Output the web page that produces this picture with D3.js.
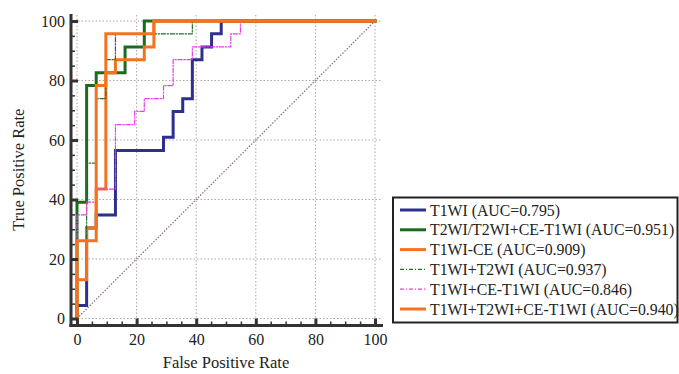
<!DOCTYPE html>
<html lang="en">
<head>
    <meta charset="UTF-8">
    <style>
        body { margin: 0; background: #fff; }
    </style>
</head>
<body>
    <script src="https://d3js.org/d3.v7.min.js"></script>
    <div id="here"></div>

    <script>
        // ROC vertices (false positive rate %, true positive rate %)
        const t1wiFpr = [0, 0, 3.23, 3.23, 6.45, 6.45, 12.9, 12.9, 29.03, 29.03, 32.26, 32.26, 35.48, 35.48, 38.71, 38.71, 41.94, 41.94, 45.16, 45.16, 48.39, 48.39, 100];
        const t1wiTpr = [0, 4.35, 4.35, 30.4, 30.4, 34.8, 34.8, 56.5, 56.5, 60.9, 60.9, 69.6, 69.6, 73.9, 73.9, 87.0, 87.0, 91.3, 91.3, 95.7, 95.7, 100, 100];

        const t2wiFpr = [0, 0, 3.23, 3.23, 6.45, 6.45, 16.13, 16.13, 22.58, 22.58, 100];
        const t2wiTpr = [0, 39.1, 39.1, 78.3, 78.3, 82.6, 82.6, 91.3, 91.3, 100, 100];

        const ceFpr = [0, 0, 3.23, 3.23, 6.45, 6.45, 9.68, 9.68, 12.9, 12.9, 22.58, 22.58, 25.81, 25.81, 100];
        const ceTpr = [0, 13.0, 13.0, 30.4, 30.4, 43.5, 43.5, 82.6, 82.6, 87.0, 87.0, 91.3, 91.3, 100, 100];

        const t1t2Fpr = [0, 0, 3.23, 3.23, 6.45, 6.45, 9.68, 9.68, 12.9, 12.9, 38.71, 38.71, 100];
        const t1t2Tpr = [0, 26.1, 26.1, 52.2, 52.2, 73.9, 73.9, 87.0, 87.0, 95.7, 95.7, 100, 100];

        const t1ceFpr = [0, 0, 3.23, 3.23, 6.45, 6.45, 12.9, 12.9, 19.35, 19.35, 22.58, 22.58, 29.03, 29.03, 32.26, 32.26, 38.71, 38.71, 51.61, 51.61, 54.84, 54.84, 100];
        const t1ceTpr = [0, 34.8, 34.8, 39.1, 39.1, 43.5, 43.5, 65.2, 65.2, 69.6, 69.6, 73.9, 73.9, 78.3, 78.3, 87.0, 87.0, 91.3, 91.3, 95.7, 95.7, 100, 100];

        const allFpr = [0, 0, 6.45, 6.45, 9.68, 9.68, 25.81, 25.81, 100];
        const allTpr = [0, 26.1, 26.1, 78.3, 78.3, 95.7, 95.7, 100, 100];

        const seriesNames = [
            "T1WI (AUC=0.795)",
            "T2WI/T2WI+CE-T1WI (AUC=0.951)",
            "T1WI-CE (AUC=0.909)",
            "T1WI+T2WI (AUC=0.937)",
            "T1WI+CE-T1WI (AUC=0.846)",
            "T1WI+T2WI+CE-T1WI (AUC=0.940)"
        ];
        const majorTicks = [0, 20, 40, 60, 80, 100];

        const FONT = "'Liberation Serif', 'Times New Roman', serif";

        const series = [
            { fpr: t1wiFpr, tpr: t1wiTpr, color: "#2e2f8e", width: 3, dash: null },
            { fpr: t2wiFpr, tpr: t2wiTpr, color: "#1b6a1e", width: 3, dash: null },
            { fpr: ceFpr, tpr: ceTpr, color: "#f5731f", width: 3, dash: null },
            { fpr: t1t2Fpr, tpr: t1t2Tpr, color: "#2a6e2a", width: 1.2, dash: "4,2,1,2" },
            { fpr: t1ceFpr, tpr: t1ceTpr, color: "#e83ee8", width: 1.2, dash: "4,2,1,2" },
            { fpr: allFpr, tpr: allTpr, color: "#f5731f", width: 3, dash: null }
        ].map((s, i) => ({ ...s, name: seriesNames[i], points: s.fpr.map((f, j) => [f, s.tpr[j]]) }));

        const W = 679, H = 374;
        const svg = d3.select("#here").append("svg")
            .attr("width", W).attr("height", H)
            .style("display", "block");

        const x = d3.scaleLinear().domain([0, 100]).range([77, 375]);
        const y = d3.scaleLinear().domain([0, 100]).range([318.5, 21]);
        const axisX = 71, axisY = 325.5;

        // grid
        const grid = svg.append("g").attr("stroke", "#a8a8a8").attr("stroke-width", 1).attr("stroke-dasharray", "1.5,2");
        grid.selectAll(".gx").data(majorTicks).join("line")
            .attr("x1", d => x(d)).attr("x2", d => x(d))
            .attr("y1", y(100) - 6).attr("y2", y(0) + 2);
        grid.selectAll(".gy").data(majorTicks).join("line")
            .attr("y1", d => y(d)).attr("y2", d => y(d))
            .attr("x1", axisX).attr("x2", x(100) + 6);

        // chance diagonal
        svg.append("line")
            .attr("x1", x(0)).attr("y1", y(0)).attr("x2", x(100)).attr("y2", y(100))
            .attr("stroke", "#8a6a80").attr("stroke-width", 1.2).attr("stroke-dasharray", "1.5,1.5");

        // curves
        const line = d3.line().x(d => x(d[0])).y(d => y(d[1]));
        svg.append("g").selectAll("path").data(series).join("path")
            .attr("d", d => line(d.points))
            .attr("fill", "none")
            .attr("stroke", d => d.color)
            .attr("stroke-width", d => d.width)
            .attr("stroke-dasharray", d => d.dash)
            .attr("stroke-linejoin", "miter")
            .attr("stroke-linecap", "square");

        // axes
        const minor = d3.range(0, 101, 5);
        const yAxis = svg.append("g").attr("transform", `translate(${axisX},0)`);
        yAxis.call(d3.axisLeft(y).tickValues(minor).tickSizeInner(-4).tickSizeOuter(0).tickFormat(""));
        yAxis.selectAll(".tick line").attr("stroke", "#333").attr("stroke-width", 1.5);
        const yMajor = svg.append("g").attr("transform", `translate(${axisX},0)`)
            .call(d3.axisLeft(y).tickValues(majorTicks).tickSizeInner(-7).tickSizeOuter(0).tickPadding(6));
        yMajor.selectAll(".tick line").attr("stroke", "#333").attr("stroke-width", 3);

        const xAxis = svg.append("g").attr("transform", `translate(0,${axisY})`);
        xAxis.call(d3.axisBottom(x).tickValues(minor).tickSizeInner(-4).tickSizeOuter(0).tickFormat(""));
        xAxis.selectAll(".tick line").attr("stroke", "#333").attr("stroke-width", 1.5);
        const xMajor = svg.append("g").attr("transform", `translate(0,${axisY})`)
            .call(d3.axisBottom(x).tickValues(majorTicks).tickSizeInner(-7).tickSizeOuter(0).tickPadding(8));
        xMajor.selectAll(".tick line").attr("stroke", "#333").attr("stroke-width", 3);

        svg.selectAll(".domain").remove();
        svg.append("line").attr("x1", axisX).attr("x2", axisX).attr("y1", y(100) - 7).attr("y2", axisY + 1.5)
            .attr("stroke", "#333").attr("stroke-width", 3);
        svg.append("line").attr("x1", axisX - 1.5).attr("x2", x(100) + 8).attr("y1", axisY).attr("y2", axisY)
            .attr("stroke", "#333").attr("stroke-width", 3);

        svg.selectAll("g").attr("font-family", null).attr("font-size", null);
        svg.selectAll(".tick text").style("font-size", "16px");

        // axis titles
        svg.append("text")
            .attr("x", (x(0) + x(100)) / 2).attr("y", 368)
            .attr("text-anchor", "middle").style("font-size", "16.5px")
            .text("False Positive Rate");
        svg.append("text")
            .attr("transform", `translate(24,${(y(0) + y(100)) / 2}) rotate(-90)`)
            .attr("text-anchor", "middle").style("font-size", "16.5px")
            .text("True Positive Rate");

        // legend
        const legend = svg.append("g");
        legend.append("rect")
            .attr("x", 393).attr("y", 197.5).attr("width", 284.5).attr("height", 125)
            .attr("fill", "#fff").attr("stroke", "#222").attr("stroke-width", 2);
        const rows = legend.selectAll(".row").data(series).join("g")
            .attr("transform", (d, i) => `translate(0,${210 + i * 19.8})`);
        rows.append("line")
            .attr("x1", 400).attr("x2", 426).attr("y1", 0).attr("y2", 0)
            .attr("stroke", d => d.color)
            .attr("stroke-width", d => d.width)
            .attr("stroke-dasharray", d => d.dash);
        rows.append("text")
            .attr("x", 430).attr("dy", "0.35em")
            .style("font-size", "15.8px")
            .text(d => d.name);

        // serif text everywhere, like the original
        svg.selectAll("text").style("font-family", FONT).attr("fill", "#222");
    </script>
</body>
</html>
